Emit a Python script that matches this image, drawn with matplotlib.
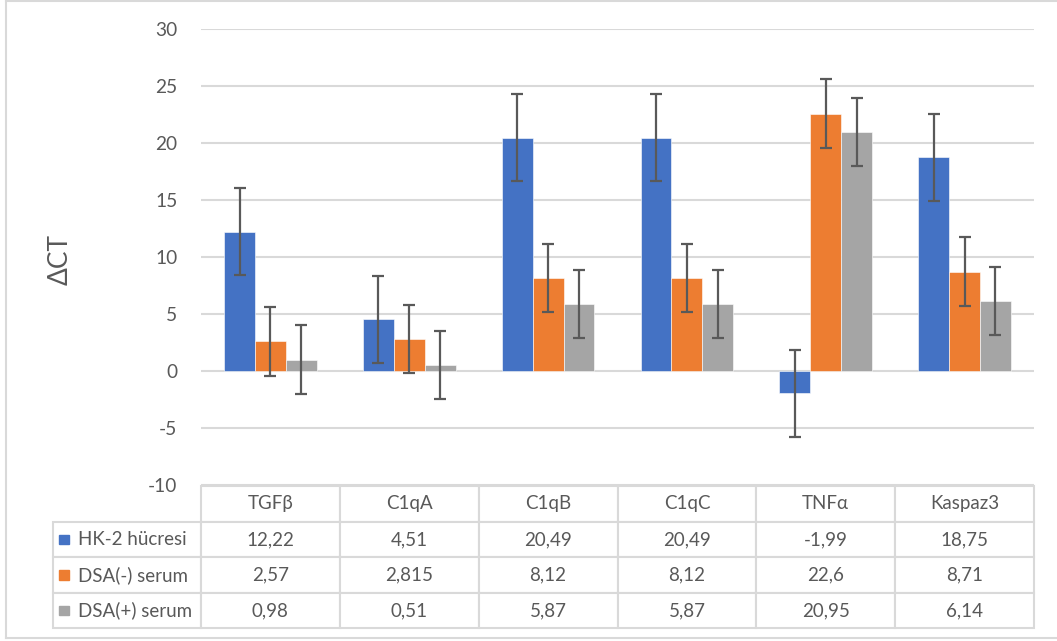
import matplotlib
matplotlib.use("Agg")
import matplotlib.pyplot as plt
import numpy as np
from matplotlib.patches import Rectangle
from matplotlib.lines import Line2D

plt.rcParams['font.family'] = ['Lato', 'DejaVu Sans']

categories = ["TGFβ", "C1qA", "C1qB", "C1qC", "TNFα", "Kaspaz3"]
series_names = ["HK-2 hücresi", "DSA(-) serum", "DSA(+) serum"]
hk2 = [12.22, 4.51, 20.49, 20.49, -1.99, 18.75]
dsa_neg = [2.57, 2.815, 8.12, 8.12, 22.6, 8.71]
dsa_pos = [0.98, 0.51, 5.87, 5.87, 20.95, 6.14]
hk2_err = [3.84, 3.84, 3.84, 3.84, 3.84, 3.84]
dsa_neg_err = [3.0, 3.0, 3.0, 3.0, 3.0, 3.0]
dsa_pos_err = [3.0, 3.0, 3.0, 3.0, 3.0, 3.0]
table_text = [["12,22", "4,51", "20,49", "20,49", "-1,99", "18,75"],
              ["2,57", "2,815", "8,12", "8,12", "22,6", "8,71"],
              ["0,98", "0,51", "5,87", "5,87", "20,95", "6,14"]]
y_ticks = [-10, -5, 0, 5, 10, 15, 20, 25, 30]

colors = ["#4472C4", "#ED7D31", "#A5A5A5"]
txt = "#595959"
grid_c = "#D9D9D9"

W, H = 1057, 641
fig = plt.figure(figsize=(W / 100, H / 100), dpi=100)
ax_left, ax_right = 201 / W, 1034 / W
ax_top, ax_bot = 1 - 29.3 / H, 1 - 484.5 / H
ax = fig.add_axes([ax_left, ax_bot, ax_right - ax_left, ax_top - ax_bot])

x = np.arange(len(categories))
bw = 1 / 4.5
all_vals = [hk2, dsa_neg, dsa_pos]
all_errs = [hk2_err, dsa_neg_err, dsa_pos_err]
for i, (vals, errs) in enumerate(zip(all_vals, all_errs)):
    pos = x + (i - 1) * bw
    ax.bar(pos, vals, width=bw, color=colors[i], zorder=3,
           edgecolor="white", linewidth=0.4)
    ax.errorbar(pos, vals, yerr=errs, fmt="none", ecolor="#595959",
                elinewidth=1.6, capsize=4, capthick=1.6, zorder=4)

ax.set_xlim(-0.5, len(categories) - 0.5)
ax.set_ylim(-10, 30)
ax.set_yticks(y_ticks)
ax.set_yticklabels([str(t) for t in y_ticks])
ax.tick_params(axis="y", length=0, pad=17, labelsize=13.8, labelcolor=txt)
ax.set_xticks([])
for s in ax.spines.values():
    s.set_visible(False)
ax.grid(axis="y", color=grid_c, linewidth=1.5, zorder=0)
ax.set_axisbelow(True)

ax.set_ylabel("ΔCT", fontsize=19, color=txt)
ax.yaxis.set_label_coords(-0.154, 0.495)

# data table
row_h_px = 35.6
tab_left_px, tab_top_px = 53, 486
label_w_px = 148
col_w_px = (1034 - 201) / len(categories)
n_rows = 1 + len(series_names)
tab_h_px = row_h_px * n_rows
ax_w_px = 1034 - 201
ax_h_px = 484.5 - 29.3
bx = (tab_left_px - 201) / ax_w_px
bw_ax = (1034 - tab_left_px) / ax_w_px
by = (484.5 - (tab_top_px + tab_h_px)) / ax_h_px
bh = tab_h_px / ax_h_px

cell_text = [[""] + categories]
for name, row in zip(series_names, table_text):
    cell_text.append([name] + row)
colw = [label_w_px] + [col_w_px] * len(categories)
colw = [c / sum(colw) for c in colw]
tab = ax.table(cellText=cell_text, colWidths=colw, bbox=[bx, by, bw_ax, bh],
               cellLoc="center")
tab.auto_set_font_size(False)
for (r, c), cell in tab.get_celld().items():
    cell.set_edgecolor(grid_c)
    cell.set_linewidth(1.5)
    cell.get_text().set_fontsize(13.5)
    cell.get_text().set_color(txt)
    if r == 0 and c == 0:
        cell.visible_edges = ""
    if c == 0 and r > 0:
        cell.get_text().set_ha("left")
        cell.PAD = 0.17
tab.set_clip_on(False)

# legend keys in the table
for i in range(len(series_names)):
    cy_px = tab_top_px + row_h_px * (i + 1.5)
    sq = 9.5
    rx = (59 - 201) / ax_w_px
    ry = (484.5 - (cy_px + sq / 2)) / ax_h_px
    ax.add_patch(Rectangle((rx, ry), sq / ax_w_px, sq / ax_h_px,
                           transform=ax.transAxes, color=colors[i],
                           clip_on=False, zorder=5))

# chart border
bl, bb, br, bt = 6 / W, 1 - 637.5 / H, 1.0, 1 - 0.8 / H
for xs, ys in [([bl, bl], [bb, bt]), ([bl, br], [bt, bt]), ([bl, br], [bb, bb])]:
    fig.add_artist(Line2D(xs, ys, transform=fig.transFigure, color=grid_c, linewidth=1.5))

fig.savefig("out.png", dpi=100, facecolor="white")
